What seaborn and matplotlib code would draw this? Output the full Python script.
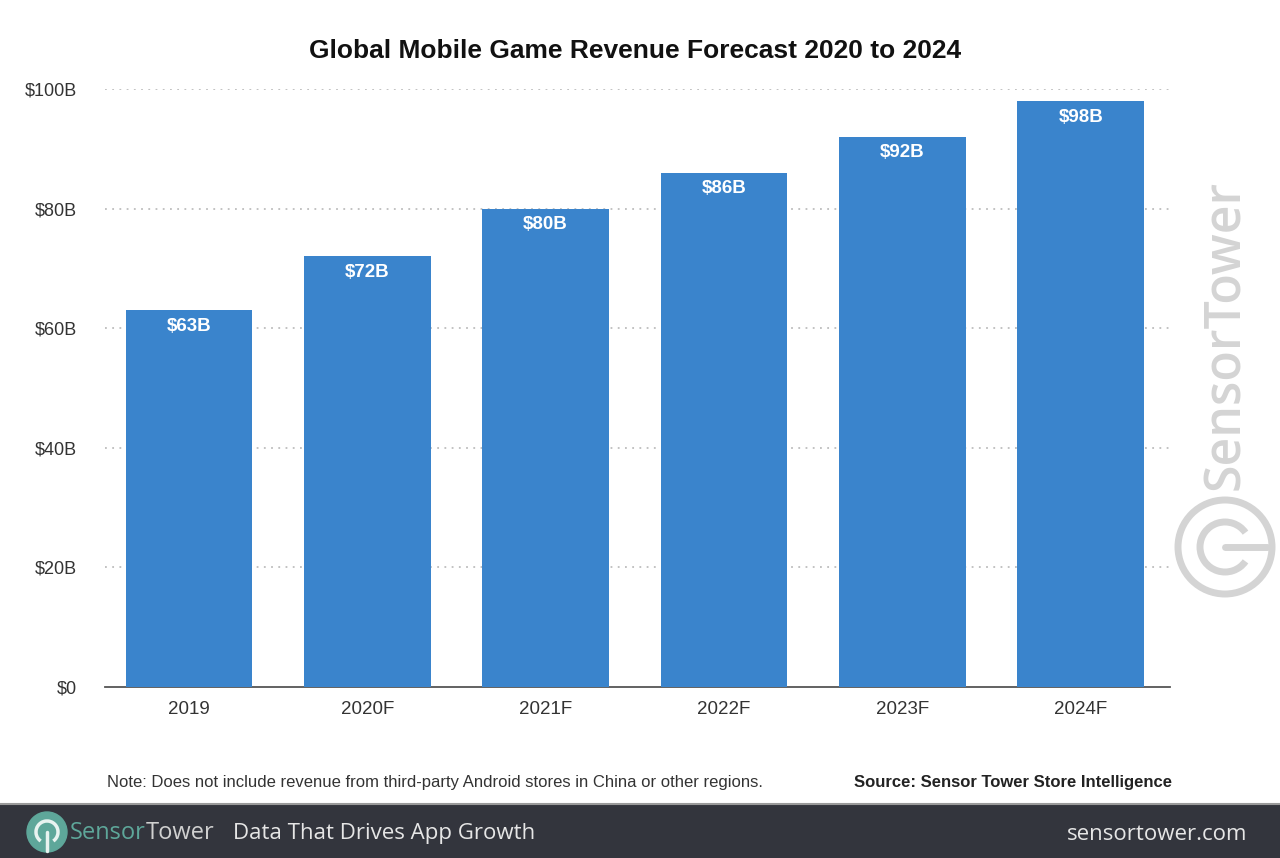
import seaborn as sns
import pandas as pd
import matplotlib.pyplot as plt
from matplotlib.patches import Circle, Rectangle, Arc

years = ["2019", "2020F", "2021F", "2022F", "2023F", "2024F"]
revenue = [63, 72, 80, 86, 92, 98]
bar_labels = ["$63B", "$72B", "$80B", "$86B", "$92B", "$98B"]
y_ticks = [0, 20, 40, 60, 80, 100]
y_tick_labels = ["$0", "$20B", "$40B", "$60B", "$80B", "$100B"]

sns.set_theme(style="white")
plt.rcParams["font.family"] = ["Liberation Sans", "DejaVu Sans"]
open_sans = ["Open Sans", "DejaVu Sans"]

data = pd.DataFrame({"year": years, "revenue": revenue})

W, H = 1280, 858
fig = plt.figure(figsize=(W / 100, H / 100), dpi=100)
fig.patch.set_facecolor("white")
ax = fig.add_axes([105 / W, (H - 687) / H, (1170 - 105) / W, (687 - 89) / H])

sns.barplot(data=data, x="year", y="revenue", color="#3a84cc", saturation=1,
            width=0.71, linewidth=0, ax=ax, zorder=3)

ax.set_xlim(-0.47, 5.5)
ax.set_ylim(0, 100)
ax.set_yticks(y_ticks)
ax.set_yticklabels(y_tick_labels)
ax.set_xlabel("")
ax.set_ylabel("")
for v in y_ticks[1:]:
    ax.axhline(v, color="#bdbdbd", lw=1.3, ls=(0, (1, 3)), zorder=1)
for s in ["top", "right", "left"]:
    ax.spines[s].set_visible(False)
ax.spines["bottom"].set_color("#555555")
ax.spines["bottom"].set_linewidth(1.3)
ax.tick_params(axis="y", length=0, pad=20, labelsize=13, labelcolor="#333333")
ax.tick_params(axis="x", length=0, pad=10, labelsize=13.5, labelcolor="#333333")

for i, (v, t) in enumerate(zip(revenue, bar_labels)):
    ax.text(i, v - 2.7, t, ha="center", va="center", color="white",
            fontsize=13.5, fontweight="bold", zorder=4)

fig.text(635 / W, 1 - 51 / H, "Global Mobile Game Revenue Forecast 2020 to 2024",
         ha="center", va="center", fontsize=19, fontweight="bold", color="#111111")

fig.text(107 / W, 1 - 782 / H,
         "Note: Does not include revenue from third-party Android stores in China or other regions.",
         ha="left", va="center", fontsize=12, color="#333333")
fig.text(1172 / W, 1 - 782 / H, "Source: Sensor Tower Store Intelligence",
         ha="right", va="center", fontsize=12, fontweight="bold", color="#222222")

# watermark
fig.text(1226 / W, 1 - 335 / H, "SensorTower", rotation=90, ha="center", va="center",
         fontsize=36, color="#d4d4d4", family=open_sans, fontweight="semibold")
wm = fig.add_axes([0, 0, 1, 1], facecolor="none")
wm.set_xlim(0, W)
wm.set_ylim(H, 0)
wm.axis("off")
wm.add_patch(Circle((1225, 547), 47, fill=False, ec="#d4d4d4", lw=5))
wm.add_patch(Arc((1225, 547), 50, 50, theta1=35, theta2=325, ec="#d4d4d4", lw=5))
wm.plot([1225, 1267], [547, 547], color="#d4d4d4", lw=5, solid_capstyle="round")

# footer band
wm.add_patch(Rectangle((0, 804), W, 54, color="#33353d", zorder=1))
wm.plot([0, W], [804, 804], color="#9a9a9a", lw=1.5, zorder=2)
wm.add_patch(Circle((47, 832), 20, color="#5ea79a", zorder=3))
wm.add_patch(Arc((47, 832), 22, 22, theta1=125, theta2=415, ec="#e8f3f0", lw=2.5, zorder=4))
wm.plot([47, 47], [832, 851], color="#e8f3f0", lw=2.5, zorder=4)
fig.text(70 / W, 1 - 833 / H, "Sensor", ha="left", va="center", fontsize=17,
         color="#5ea79a", family=open_sans)
fig.text(146 / W, 1 - 833 / H, "Tower", ha="left", va="center", fontsize=17,
         color="#d0d0d0", family=open_sans)
fig.text(233 / W, 1 - 833 / H, "Data That Drives App Growth", ha="left", va="center",
         fontsize=16, color="#e6e6e6", family=open_sans)
fig.text(1247 / W, 1 - 835 / H, "sensortower.com", ha="right", va="center",
         fontsize=16, color="#e6e6e6", family=open_sans)

fig.savefig("out.png", dpi=100)
